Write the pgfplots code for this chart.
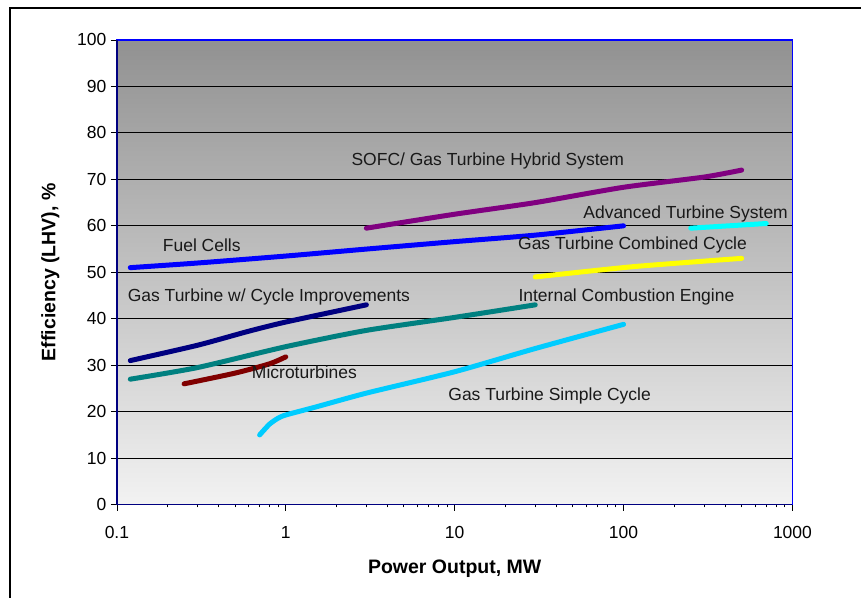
\documentclass[border=0pt]{standalone}
\usepackage{pgfplots}
\pgfplotsset{compat=1.18}
\usepackage{fontspec}
\setmainfont{Liberation Sans}

\definecolor{plotblue}{HTML}{0000FF}
\definecolor{plotnavy}{HTML}{000080}
\definecolor{plotpurple}{HTML}{800080}
\definecolor{plotcyan}{HTML}{00FFFF}
\definecolor{plotyellow}{HTML}{FFFF00}
\definecolor{plotteal}{HTML}{008080}
\definecolor{plotmaroon}{HTML}{800000}
\definecolor{plotsky}{HTML}{00CCFF}

\begin{document}
\begin{tikzpicture}
% page frame, pixel coordinates with y measured from the bottom
\path[fill=white] (0pt,0pt) rectangle (862pt,598pt);
\draw[line width=1.2pt] (10pt,0pt) -- (10pt,590pt) -- (862pt,590pt);

\begin{axis}[
  at={(117pt,93pt)}, anchor=south west,
  width=676pt, height=465pt, scale only axis,
  xmode=log, xmin=0.1, xmax=1000,
  ymin=0, ymax=100,
  xtick={0.1,1,10,100,1000},
  xticklabels={0.1,1,10,100,1000},
  ytick={0,10,...,100},
  minor xtick={}, minor ytick={},
  tick pos=left, tick align=outside,
  major tick length=6pt,
  every tick/.style={black, line width=0.8pt},
  ymajorgrids, xmajorgrids=false,
  grid style={black, line width=0.8pt},
  axis line style={plotblue, line width=1.6pt},
  axis background/.style={top color=black!43, bottom color=black!5},
  tick label style={font=\fontsize{17.5}{20}\selectfont},
  /pgf/number format/assume math mode=true,
  xticklabel style={yshift=-12pt},
  yticklabel style={xshift=-1pt},
  xlabel={\textbf{Power Output, MW}},
  ylabel={\textbf{Efficiency (LHV), \%}},
  label style={font=\fontsize{19.5}{22}\selectfont},
  xlabel style={yshift=-14pt},
  ylabel style={yshift=11pt},
  every axis plot/.append style={line width=5pt, line cap=round, smooth, tension=0.4, no marks},
  clip=false,
]
% lower and left axis lines are navy
\draw[plotnavy, line width=1.6pt] (rel axis cs:0,1) -- (rel axis cs:0,0) -- (rel axis cs:1,0);

% Fuel Cells
\addplot[plotblue] coordinates {(0.12,51) (0.3,52) (1,53.5) (3,55) (10,56.6) (30,58) (100,60)};
% SOFC / Gas Turbine Hybrid System
\addplot[plotpurple] coordinates {(3,59.5) (10,62.5) (30,65) (100,68.3) (300,70.5) (500,72)};
% Advanced Turbine System
\addplot[plotcyan] coordinates {(250,59.5) (700,60.5)};
% Gas Turbine Combined Cycle
\addplot[plotyellow] coordinates {(30,49) (113,51.2) (500,53)};
% Internal Combustion Engine
\addplot[plotteal] coordinates {(0.12,27) (0.3,29.5) (1,34) (3,37.5) (10,40.3) (30,43)};
% Gas Turbine w/ Cycle Improvements
\addplot[plotnavy] coordinates {(0.12,31) (0.3,34.3) (0.6,37.3) (1,39.3) (3,43)};
% Microturbines
\addplot[plotmaroon] coordinates {(0.25,26) (0.5,28.3) (0.8,30.3) (1,31.8)};
% Gas Turbine Simple Cycle
\addplot[plotsky] coordinates {(0.7,15) (0.8,17.3) (0.9,18.6) (1,19.3) (1.5,21) (3,24) (10,28.6) (30,33.6) (100,38.8)};

\begin{scope}[every node/.style={font=\fontsize{17.5}{20}\selectfont, text=black!90}]
\node at (axis cs:15.7,74) {SOFC/ Gas Turbine Hybrid System};
\node at (axis cs:233,62.6) {Advanced Turbine System};
\node at (axis cs:0.318,55.9) {Fuel Cells};
\node at (axis cs:113,55.9) {Gas Turbine Combined Cycle};
\node at (axis cs:0.794,44.7) {Gas Turbine w/ Cycle Improvements};
\node at (axis cs:104,44.7) {Internal Combustion Engine};
\node at (axis cs:1.29,28.4) {Microturbines};
\node at (axis cs:36.5,23.4) {Gas Turbine Simple Cycle};
\end{scope}
\end{axis}
\end{tikzpicture}
\end{document}
